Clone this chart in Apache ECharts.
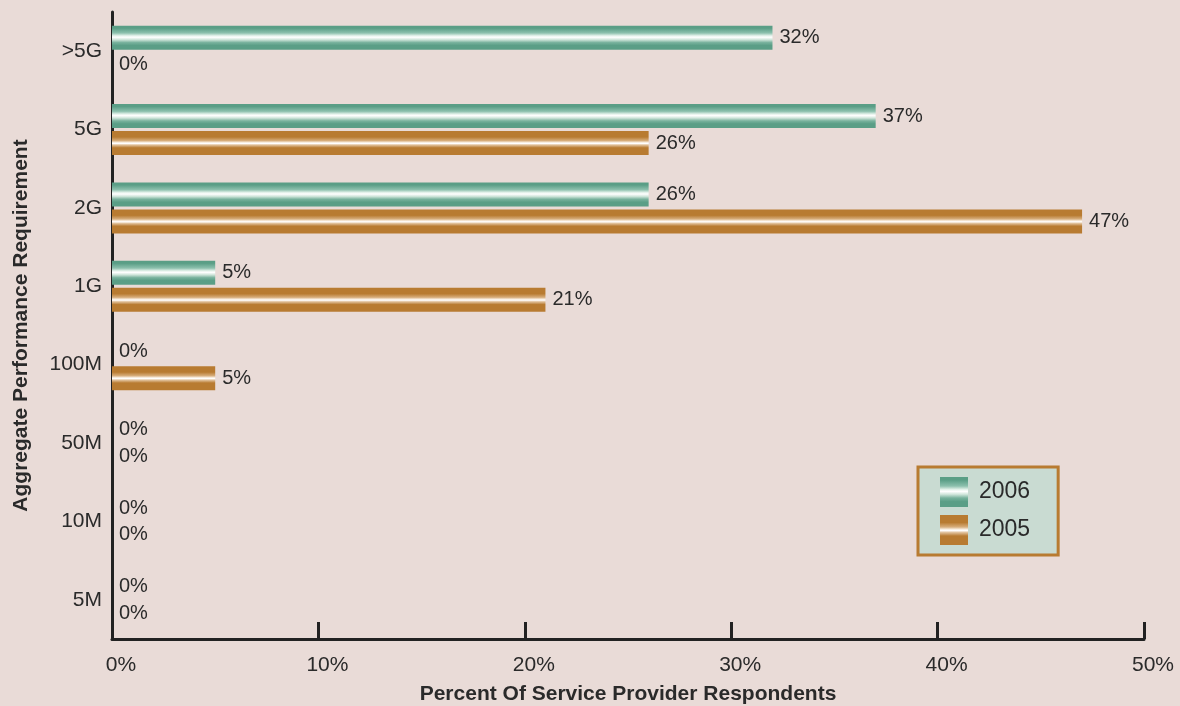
<!DOCTYPE html>
<html>
<head>
<meta charset="utf-8">
<style>
  html, body { margin: 0; padding: 0; background: #e9dbd7; }
  #chart { width: 1180px; height: 706px; }
</style>
<script src="https://cdn.jsdelivr.net/npm/echarts@6/dist/echarts.min.js"></script>
</head>
<body>
<div id="chart"></div>
<script>
// Aggregate performance requirement categories, top to bottom
const categories = ['>5G', '5G', '2G', '1G', '100M', '50M', '10M', '5M'];
// Percent of service provider respondents
const values2006 = [32, 37, 26, 5, 0, 0, 0, 0];
const values2005 = [0, 26, 47, 21, 5, 0, 0, 0];
const xTicks = [0, 10, 20, 30, 40, 50];

const textColor = '#2a2a2a';
const font = '"Liberation Sans", Arial, sans-serif';

// Glossy "tube" fill: solid edges with a bright streak through the middle
const green = new echarts.graphic.LinearGradient(0, 0, 0, 1, [
  { offset: 0, color: '#5a9e86' },
  { offset: 0.1, color: '#5a9e86' },
  { offset: 0.3, color: '#8cc0ad' },
  { offset: 0.42, color: '#e6f3ec' },
  { offset: 0.48, color: '#ffffff' },
  { offset: 0.58, color: '#cfe5da' },
  { offset: 0.7, color: '#78b29d' },
  { offset: 0.82, color: '#5a9e86' },
  { offset: 1, color: '#5a9e86' }
]);
const orange = new echarts.graphic.LinearGradient(0, 0, 0, 1, [
  { offset: 0, color: '#b87b31' },
  { offset: 0.25, color: '#b87b31' },
  { offset: 0.4, color: '#d7ad7b' },
  { offset: 0.48, color: '#f9efe3' },
  { offset: 0.52, color: '#ffffff' },
  { offset: 0.58, color: '#e2c39e' },
  { offset: 0.7, color: '#b87b31' },
  { offset: 1, color: '#b87b31' }
]);

const labelStyle = {
  show: true,
  position: 'right',
  distance: 7,
  formatter: '{c}%',
  color: textColor,
  fontFamily: font,
  fontSize: 20
};

const chart = echarts.init(document.getElementById('chart'));
chart.setOption({
  backgroundColor: '#e9dbd7',
  animation: false,
  grid: { left: 112, right: 36, top: 12, bottom: 67, containLabel: false, outerBoundsMode: 'none' },
  legend: {
    orient: 'vertical',
    left: 918,
    top: 467,
    itemWidth: 28,
    itemHeight: 30,
    itemGap: 8,
    icon: 'rect',
    padding: [10, 28, 10, 22],
    backgroundColor: '#c9dbd2',
    borderColor: '#b87b31',
    borderWidth: 3,
    textStyle: { color: textColor, fontFamily: font, fontSize: 23, padding: [0, 0, 0, 6] },
    data: ['2006', '2005']
  },
  xAxis: {
    type: 'value',
    min: 0,
    max: 50,
    interval: 10,
    name: 'Percent Of Service Provider Respondents',
    nameLocation: 'middle',
    nameGap: 45,
    nameTextStyle: { color: textColor, fontFamily: font, fontSize: 21, fontWeight: 'bold' },
    axisLine: { show: true, lineStyle: { color: '#222', width: 3 } },
    axisTick: { show: true, inside: true, length: 17, lineStyle: { color: '#222', width: 3 } },
    splitLine: { show: false },
    axisLabel: {
      color: textColor,
      fontFamily: font,
      fontSize: 21,
      margin: 16,
      padding: [0, 0, 0, 18],
      formatter: function (v) { return xTicks.indexOf(v) >= 0 ? v + '%' : ''; }
    }
  },
  yAxis: {
    type: 'category',
    data: categories,
    inverse: true,
    name: 'Aggregate Performance Requirement',
    nameLocation: 'middle',
    nameGap: 80,
    nameRotate: 90,
    nameTextStyle: { color: textColor, fontFamily: font, fontSize: 21, fontWeight: 'bold' },
    axisLine: { show: true, lineStyle: { color: '#222', width: 3 } },
    axisTick: { show: false },
    axisLabel: { color: textColor, fontFamily: font, fontSize: 21, margin: 10 }
  },
  series: [
    {
      name: '2006',
      type: 'bar',
      data: values2006,
      barWidth: 24,
      barGap: '12%',
      itemStyle: { color: green },
      label: labelStyle
    },
    {
      name: '2005',
      type: 'bar',
      data: values2005,
      barWidth: 24,
      barGap: '12%',
      itemStyle: { color: orange },
      label: labelStyle
    }
  ]
});
</script>
</body>
</html>
